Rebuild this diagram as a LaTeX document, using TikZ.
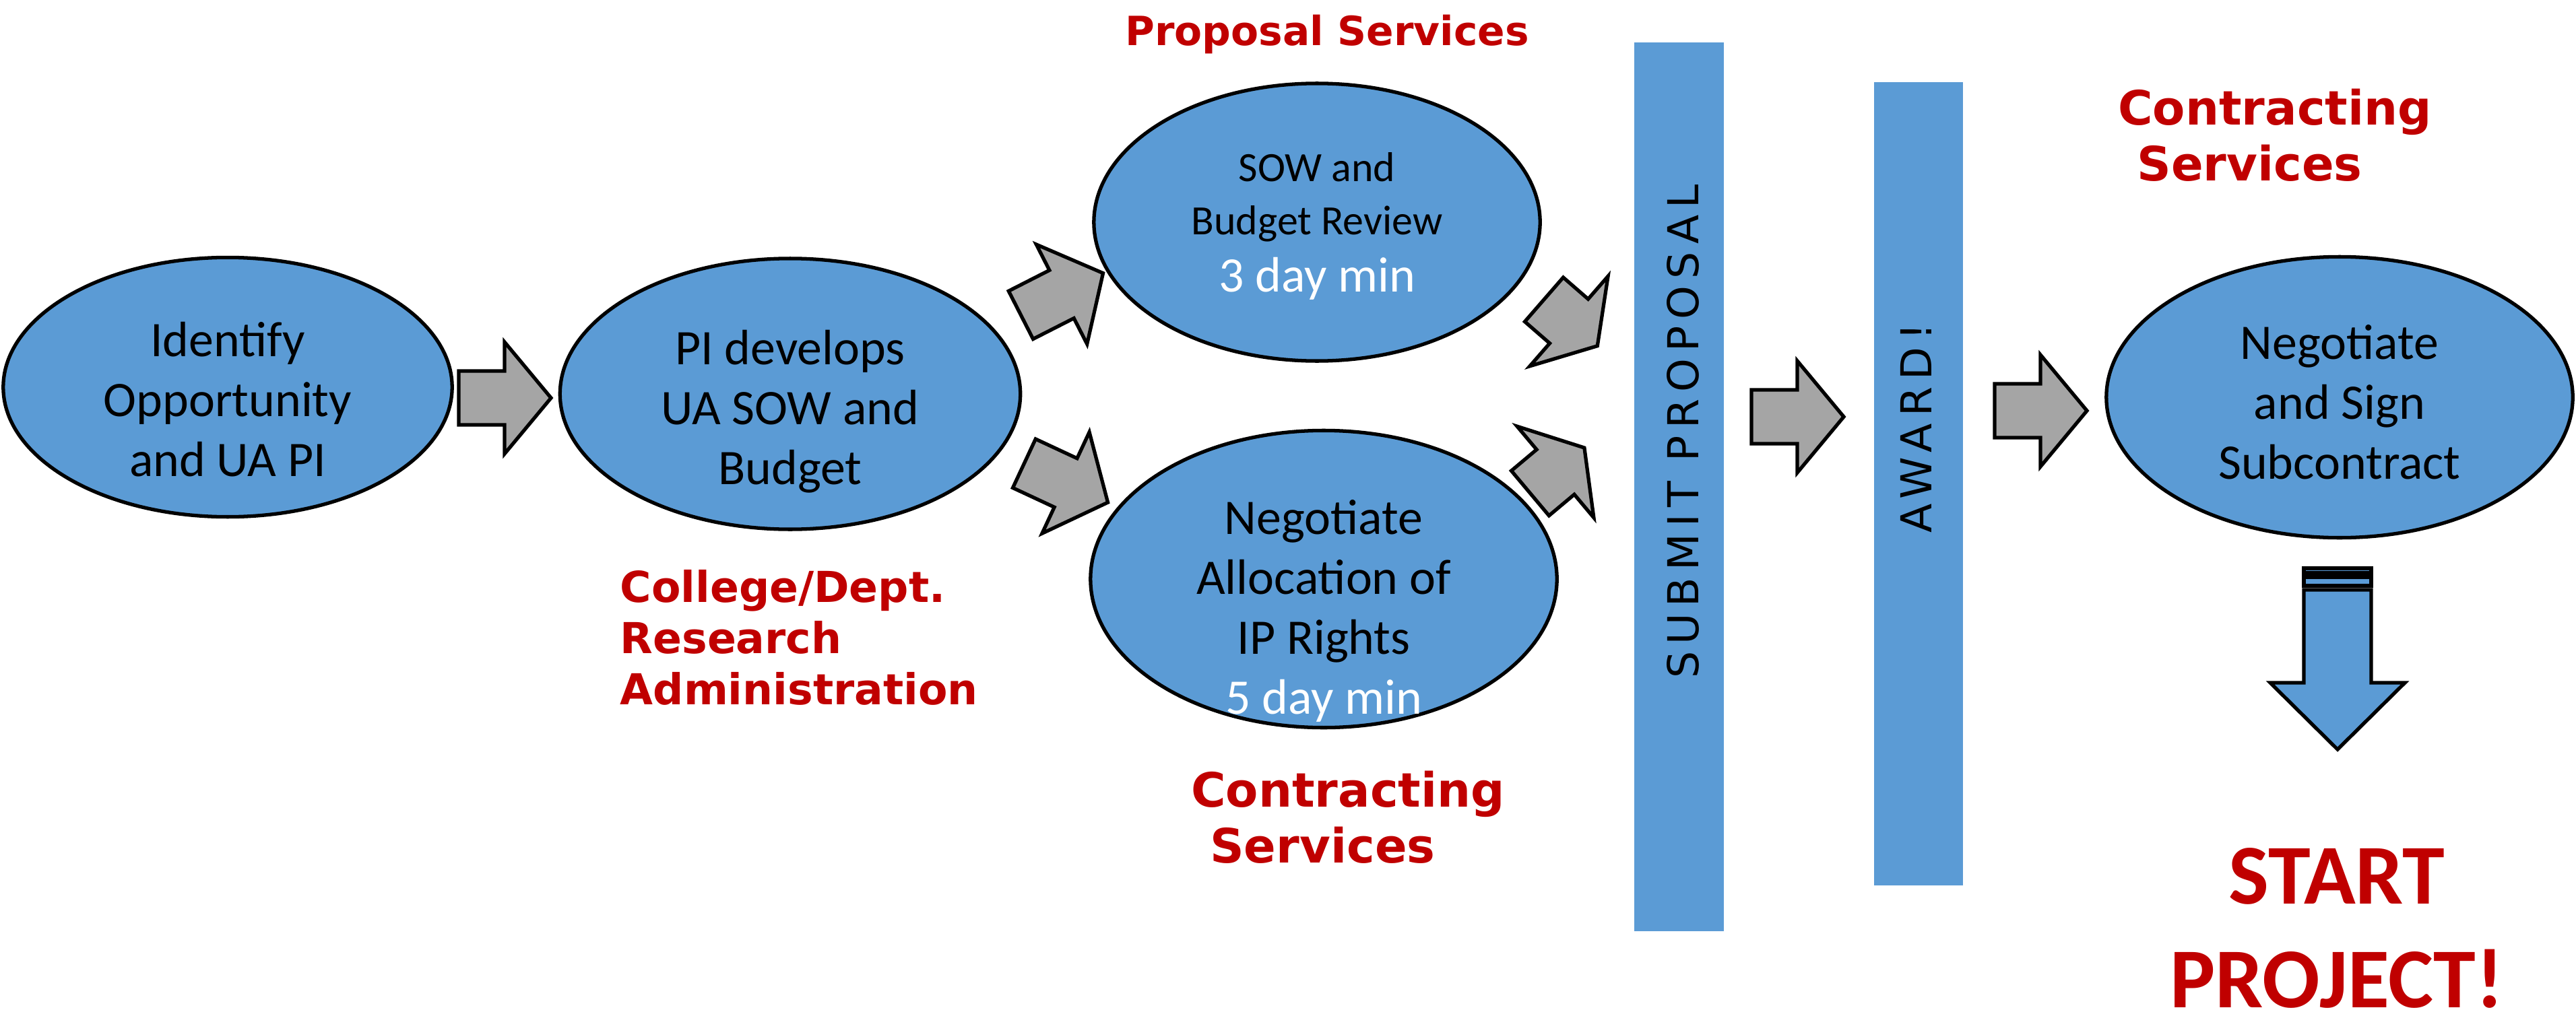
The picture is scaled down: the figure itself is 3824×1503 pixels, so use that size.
\documentclass[tikz,border=0pt]{standalone}
\usepackage{fontspec}
\usetikzlibrary{calc,shapes.geometric}
\setmainfont{Carlito}
\newfontfamily\verd{DejaVu Sans}
\newfontfamily\verdsp[LetterSpace=16]{DejaVu Sans}
\definecolor{blobblue}{HTML}{5B9BD5}
\definecolor{arrgray}{HTML}{A5A5A5}
\definecolor{darkred}{HTML}{C00000}
\tikzset{
  blob/.style={ellipse, draw=black, line width=1.5pt, fill=blobblue, inner sep=0pt},
  etxt/.style={align=center, inner sep=0pt, font=\fontsize{21}{25.3}\selectfont},
  barrow/.style={draw=black, fill=arrgray, line width=1.5pt, line join=miter},
  bluearrow/.style={draw=black, fill=blobblue, line width=1.5pt, line join=miter},
  bar/.style={rectangle, fill=blobblue, inner sep=0pt},
  bartxt/.style={rotate=90, inner sep=0pt, font=\verdsp\fontsize{18}{22}\selectfont},
  redlbl/.style={darkred, inner sep=0pt, font=\verd\bfseries\fontsize{20}{23.6}\selectfont}
}
\def\blockarrow[#1](#2)(#3:#4:#5:#6:#7){\draw[#1, shift={(#2)}, rotate=#3] (-#4,-#6) -- (0,-#6) -- (0,-#7) -- (#5,0) -- (0,#7) -- (0,#6) -- (-#4,#6) -- cycle;}

\begin{document}
\begin{tikzpicture}[x=0.01cm, y=-0.01cm]
		%%%%% START %%%%%
		\useasboundingbox (0,0) rectangle (3824,1503);
		
		\node[blob, minimum width=6.66cm, minimum height=3.85cm] (opp) at (338,575) {};
		\node[etxt] (opptxt) at ($(opp)+(0,26)$) {\strut Identify\\Opportunity\\and UA PI\strut};
		
		\node[blob, minimum width=6.83cm, minimum height=4.02cm] (dev) at (1173,585) {};
		\node[etxt] (devtxt) at ($(dev)+(0,28)$) {\strut PI develops\\UA SOW and\\Budget\strut};
		
		\node[blob, minimum width=6.62cm, minimum height=4.12cm] (sow) at (1955,330) {};
		\node[etxt, font=\fontsize{17.6}{22.5}\selectfont] (sowtxt) at (sow) {\strut SOW and\\Budget Review\\[1.7pt]{\fontsize{21}{25.3}\selectfont\color{white}3 day min}};
		
		\node[blob, minimum width=6.92cm, minimum height=4.41cm] (ip) at (1965,860) {};
		\node[etxt] (iptxt) at ($(ip)+(0,49)$) {\strut Negotiate\\Allocation of\\IP Rights\\\textcolor{white}{5 day min}\strut};
		
		\node[blob, minimum width=6.92cm, minimum height=4.17cm] (sign) at (3473,590) {};
		\node[etxt] (signtxt) at ($(sign)+(0,15)$) {\strut Negotiate\\and Sign\\Subcontract\strut};
		
		% gray block arrows
		\blockarrow[barrow](749,591)(0:68:69:40:83);
		\blockarrow[barrow](1576,437)(27:68:69:40:83);
		\blockarrow[barrow](1582,717)(-25:68:69:40:83);
		\blockarrow[barrow](2329,477)(-41:49:56:43.5:88.5);
		\blockarrow[barrow](2309,701)(40:49:56:43.5:88.5);
		\blockarrow[barrow](2668,619)(0:68:69:40:83);
		\blockarrow[barrow](3029,610)(0:68:69:40:83);
		
		% bars
		\node[bar, minimum width=1.33cm, minimum height=13.2cm] (submit) at (2492.5,723) {};
		\node[bartxt] (submittxt) at (2498,641) {SUBMIT PROPOSAL};
		\node[bar, minimum width=1.32cm, minimum height=11.93cm] (award) at (2848,718.5) {};
		\node[bartxt] (awardtxt) at (2844,636) {AWARD!};
		
		% striped arrow
		\draw[bluearrow] (3420,844) rectangle (3520,851);
		\draw[bluearrow] (3420,857) rectangle (3520,870);
		\draw[bluearrow] (3420,876) -- (3520,876) -- (3520,1014) -- (3570,1014) -- (3470,1113) -- (3370,1014) -- (3420,1014) -- cycle;
		
		% red labels
		\node[redlbl, anchor=base, font=\verd\bfseries\fontsize{17}{20}\selectfont] (propsvc) at (1970,68) {Proposal Services};
		\node[redlbl, align=left] (consvc1) at (3377,210) {\strut Contracting\\\hspace*{0.4em}Services\strut};
		\node[redlbl, align=left] (consvc2) at (2001,1223) {\strut Contracting\\\hspace*{0.4em}Services\strut};
		\node[redlbl, align=left, anchor=west, font=\verd\bfseries\fontsize{18}{21.6}\selectfont] (college) at (920,955) {\strut College/Dept.\\Research\\Administration\strut};
		\node[darkred, inner sep=0pt, align=center, font=\bfseries\fontsize{36}{43.8}\selectfont] (start) at (3469,1389) {\strut START\\PROJECT!\strut};
		
		%%%%% END %%%%%
	\end{tikzpicture}
\end{document}
